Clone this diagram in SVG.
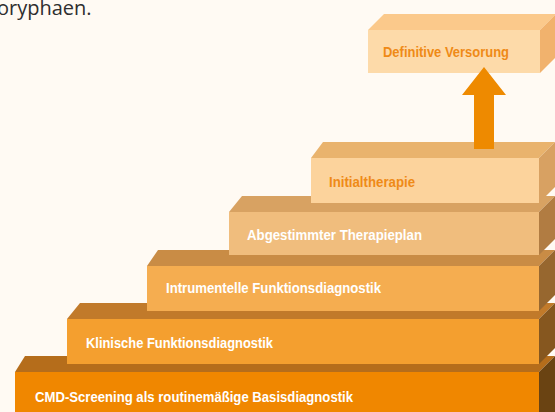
<svg xmlns="http://www.w3.org/2000/svg" width="555" height="412" viewBox="0 0 555 412">
  <style>
    .lbl { font-family: "Liberation Sans", Arial, sans-serif; font-weight: bold; font-size: 15.5px; }
    .w { fill: #ffffff; }
    .o { fill: #ef8a17; }
    .cap { font-family: "Open Sans", "Liberation Sans", sans-serif; font-size: 20px; fill: #2e2e2e; }
  </style>
  <rect width="555" height="412" fill="#fffaf3"/>
  <text class="cap" x="-3" y="15">oryphaen.</text>

  <!-- Step 1 (bottom) -->
  <g id="step-cmd">
    <polygon points="15,372 25,356 555,356 539,372" fill="#b56d1b"/>
    <polygon points="539,372 555,356 555,418 539,418" fill="#6a4312"/>
    <rect x="15" y="372" width="524" height="46" fill="#f08700"/>
    <text class="lbl w" x="35" y="402" textLength="318" lengthAdjust="spacingAndGlyphs">CMD-Screening als routinemäßige Basisdiagnostik</text>
  </g>

  <!-- Step 2 -->
  <g id="step-klinisch">
    <polygon points="67,319 80,303 555,303 539,319" fill="#c17a2a"/>
    <polygon points="539,319 555,303 555,348 539,364" fill="#86571f"/>
    <rect x="67" y="319" width="472" height="45" fill="#f49f2f"/>
    <text class="lbl w" x="86" y="348" textLength="187" lengthAdjust="spacingAndGlyphs">Klinische Funktionsdiagnostik</text>
  </g>

  <!-- Step 3 -->
  <g id="step-instrumentell">
    <polygon points="147,266 158,250 555,250 539,266" fill="#c98c45"/>
    <polygon points="539,266 555,250 555,295 539,311" fill="#97672f"/>
    <rect x="147" y="266" width="392" height="45" fill="#f5ad50"/>
    <text class="lbl w" x="166" y="293" textLength="215" lengthAdjust="spacingAndGlyphs">Intrumentelle Funktionsdiagnostik</text>
  </g>

  <!-- Step 4 -->
  <g id="step-therapieplan">
    <polygon points="229,212 242,196 555,196 539,212" fill="#d8a262"/>
    <polygon points="539,212 555,196 555,239 539,255" fill="#b17c42"/>
    <rect x="229" y="212" width="310" height="43" fill="#f0bd7d"/>
    <text class="lbl w" x="247" y="240" textLength="175" lengthAdjust="spacingAndGlyphs">Abgestimmter Therapieplan</text>
  </g>

  <!-- Step 5 -->
  <g id="step-initialtherapie">
    <polygon points="311,158 323,142 555,142 539,158" fill="#e9b36d"/>
    <polygon points="539,158 555,142 555,187 539,203" fill="#d8a162"/>
    <rect x="311" y="158" width="228" height="45" fill="#fcd39c"/>
    <text class="lbl o" x="329" y="187" textLength="86" lengthAdjust="spacingAndGlyphs">Initialtherapie</text>
  </g>

  <!-- Top: goal -->
  <g id="step-definitiv">
    <polygon points="368,30 384,14 556,14 540,30" fill="#fbc98b"/>
    <polygon points="540,30 556,14 556,57 540,73" fill="#f1b26d"/>
    <rect x="368" y="30" width="172" height="43" fill="#fddaa9"/>
    <text class="lbl o" x="383" y="57" textLength="126" lengthAdjust="spacingAndGlyphs">Definitive Versorung</text>
  </g>

  <!-- Connectors -->
  <g id="connectors">
    <polygon points="484,67 506,95 494,95 494,149 474,149 474,95 462,95" fill="#ee8a00"/>
  </g>
</svg>
